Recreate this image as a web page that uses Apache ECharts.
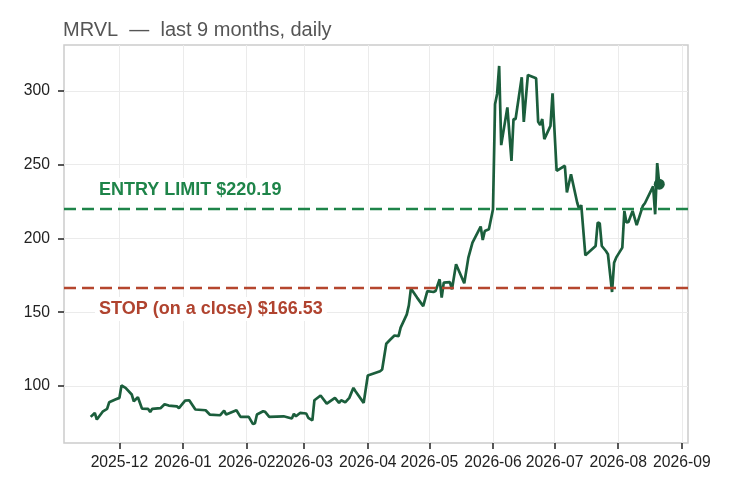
<!DOCTYPE html>
<html>
<head>
<meta charset="utf-8">
<script src="https://cdn.jsdelivr.net/npm/echarts@6/dist/echarts.min.js"></script>
<style>
  html, body { margin: 0; padding: 0; background: #fff; }
  #chart { width: 735px; height: 495px; }
</style>
</head>
<body>
<div id="chart"></div>
<script>
// closing prices
const dates = [
  '2025-11-17','2025-11-19','2025-11-20','2025-11-23','2025-11-25','2025-11-26','2025-11-29',
  '2025-12-01','2025-12-02','2025-12-04','2025-12-07','2025-12-08','2025-12-10','2025-12-12','2025-12-15',
  '2025-12-16','2025-12-17','2025-12-21','2025-12-23','2025-12-25','2025-12-29','2025-12-30',
  '2026-01-02','2026-01-04','2026-01-07','2026-01-12','2026-01-14','2026-01-19','2026-01-21','2026-01-22',
  '2026-01-27','2026-01-29',
  '2026-02-02','2026-02-04','2026-02-05','2026-02-06','2026-02-09','2026-02-10','2026-02-12','2026-02-19',
  '2026-02-23','2026-02-24','2026-02-25','2026-02-27',
  '2026-03-02','2026-03-03','2026-03-05','2026-03-06','2026-03-09','2026-03-12','2026-03-16','2026-03-18',
  '2026-03-19','2026-03-21','2026-03-23','2026-03-25','2026-03-26','2026-03-30',
  '2026-04-01','2026-04-07','2026-04-08','2026-04-10','2026-04-12','2026-04-14','2026-04-16','2026-04-17',
  '2026-04-20','2026-04-21','2026-04-22','2026-04-25','2026-04-28','2026-04-30',
  '2026-05-03','2026-05-04','2026-05-06','2026-05-07','2026-05-08','2026-05-11','2026-05-12','2026-05-14',
  '2026-05-18','2026-05-20','2026-05-22','2026-05-26','2026-05-27','2026-05-28','2026-05-30',
  '2026-06-01','2026-06-02','2026-06-03','2026-06-04','2026-06-05','2026-06-08','2026-06-10','2026-06-11',
  '2026-06-12','2026-06-15','2026-06-16','2026-06-18','2026-06-22','2026-06-23','2026-06-24','2026-06-25',
  '2026-06-26','2026-06-29','2026-06-30',
  '2026-07-02','2026-07-06','2026-07-07','2026-07-09','2026-07-12','2026-07-13','2026-07-14','2026-07-16',
  '2026-07-21','2026-07-22','2026-07-23','2026-07-24','2026-07-26','2026-07-27','2026-07-29','2026-07-30',
  '2026-07-31',
  '2026-08-03','2026-08-04','2026-08-05','2026-08-06','2026-08-08','2026-08-10','2026-08-13','2026-08-14',
  '2026-08-18','2026-08-19','2026-08-20','2026-08-21'
];
const closes = [
  79.0, 81.7, 77.2, 82.8, 84.4, 88.9, 90.8,
  91.9, 100.3, 98.7, 94.2, 89.6, 92.3, 84.6, 84.4, 82.4, 84.5, 84.9, 87.6, 86.7, 86.2, 84.9,
  90.1, 90.3, 84.0, 83.5, 80.6, 80.1, 83.3, 80.6, 83.5, 79.0,
  79.0, 74.3, 74.5, 80.6, 82.8, 82.4, 79.0, 79.4, 77.9, 81.1, 79.4, 81.7,
  81.3, 78.4, 76.7, 90.3, 93.5, 88.0, 91.9, 88.5, 90.3, 88.9, 91.9, 98.7, 96.4, 88.5,
  107.1, 110.0, 111.1, 128.6, 131.5, 134.2, 133.8, 139.5, 148.5, 154.6, 166.0, 159.9, 154.1, 164.3,
  163.7, 164.3, 172.3, 159.9, 170.0, 170.4, 165.5, 182.5, 169.6, 187.0, 197.2, 208.1, 199.0, 205.1, 206.3,
  219.8, 291.0, 298.0, 317.0, 263.3, 288.9, 252.6, 281.0, 281.0, 309.3, 279.1, 310.9, 308.6, 279.1,
  276.9, 281.0, 267.4, 276.4, 298.4,
  245.9, 249.3, 231.2, 243.6, 224.4, 219.8, 222.6, 188.6, 194.9, 210.8, 210.3, 194.9, 191.5, 189.3,
  163.7, 183.6, 187.0,
  193.8, 218.7, 210.8, 211.2, 218.7, 209.0, 222.1, 223.9, 235.3, 216.4, 251.1, 236.8
];
const entryLimit = 220.19;
const stopClose = 166.53;
const monthTicks = ['2025-12-01','2026-01-01','2026-02-01','2026-03-01','2026-04-01','2026-05-01',
  '2026-06-01','2026-07-01','2026-08-01','2026-09-01'];
const priceTicks = [100, 150, 200, 250, 300];

const font = 'Liberation Sans, Arial, sans-serif';
const ts = function (d) { return echarts.time.parse(d).getTime(); };
const monthValues = monthTicks.map(ts);
const series = dates.map(function (d, i) { return [ts(d), closes[i]]; });
const last = series[series.length - 1];

const chart = echarts.init(document.getElementById('chart'));
const option = {
    animation: false,
    backgroundColor: '#fff',
    title: {
        text: 'MRVL  \u2014  last 9 months, daily',
        left: 58,
        top: 15,
        textStyle: { color: '#555', fontSize: 20, fontWeight: 'normal', fontFamily: font }
    },
    grid: {
        left: 64, right: 47, top: 45, bottom: 52,
        show: true, borderColor: '#cccccc', borderWidth: 1.5, backgroundColor: 'transparent'
    },
    xAxis: {
        type: 'value',
        min: ts('2025-11-04'),
        max: ts('2026-09-04'),
        axisLine: { show: false },
        axisTick: {
            show: true, customValues: monthValues, length: 6,
            lineStyle: { color: '#222', width: 1.5 }
        },
        axisLabel: {
            customValues: monthValues,
            color: '#222', fontSize: 15.7, fontFamily: font, margin: 12,
            formatter: function (v) {
                const d = new Date(v);
                const m = d.getMonth() + 1;
                return d.getFullYear() + '-' + (m < 10 ? '0' + m : m);
            }
        },
        splitLine: { show: true, lineStyle: { color: '#ebebeb', width: 1 } }
    },
    yAxis: {
        type: 'value',
        min: 61.3,
        max: 331.2,
        axisLine: { show: false },
        axisTick: {
            show: true, customValues: priceTicks, length: 6,
            lineStyle: { color: '#222', width: 1.5 }
        },
        axisLabel: {
            customValues: priceTicks,
            color: '#222', fontSize: 15.7, fontFamily: font, margin: 14
        },
        splitLine: { show: true, lineStyle: { color: '#ebebeb', width: 1 } }
    },
    series: [{
        name: 'MRVL',
        type: 'line',
        data: series,
        showSymbol: false,
        symbol: 'none',
        lineStyle: { color: '#1b5e3c', width: 2.7 },
        z: 3,
        markLine: {
            silent: true,
            symbol: 'none',
            label: { show: false },
            data: [
                { yAxis: entryLimit, lineStyle: { color: '#1e8449', type: [12, 6], width: 2.4 } },
                { yAxis: stopClose, lineStyle: { color: '#b5462e', type: [12, 6], width: 2.4 } }
            ]
        }
    }, {
        name: 'last',
        type: 'scatter',
        data: [last],
        symbolSize: 11,
        itemStyle: { color: '#1b5e3c', opacity: 1 },
        z: 4
    }],
    graphic: [{
        type: 'text', x: 95, y: 190, z: 100,
        style: {
            text: 'ENTRY LIMIT $' + entryLimit.toFixed(2),
            fill: '#1e8449', fontSize: 18, fontWeight: 'bold', fontFamily: font,
            align: 'left', verticalAlign: 'middle',
            backgroundColor: '#fff', padding: [3, 4]
        }
    }, {
        type: 'text', x: 95, y: 309, z: 100,
        style: {
            text: 'STOP (on a close) $' + stopClose.toFixed(2),
            fill: '#b0432f', fontSize: 18, fontWeight: 'bold', fontFamily: font,
            align: 'left', verticalAlign: 'middle',
            backgroundColor: '#fff', padding: [3, 4]
        }
    }]
};
chart.setOption(option);
</script>
</body>
</html>
